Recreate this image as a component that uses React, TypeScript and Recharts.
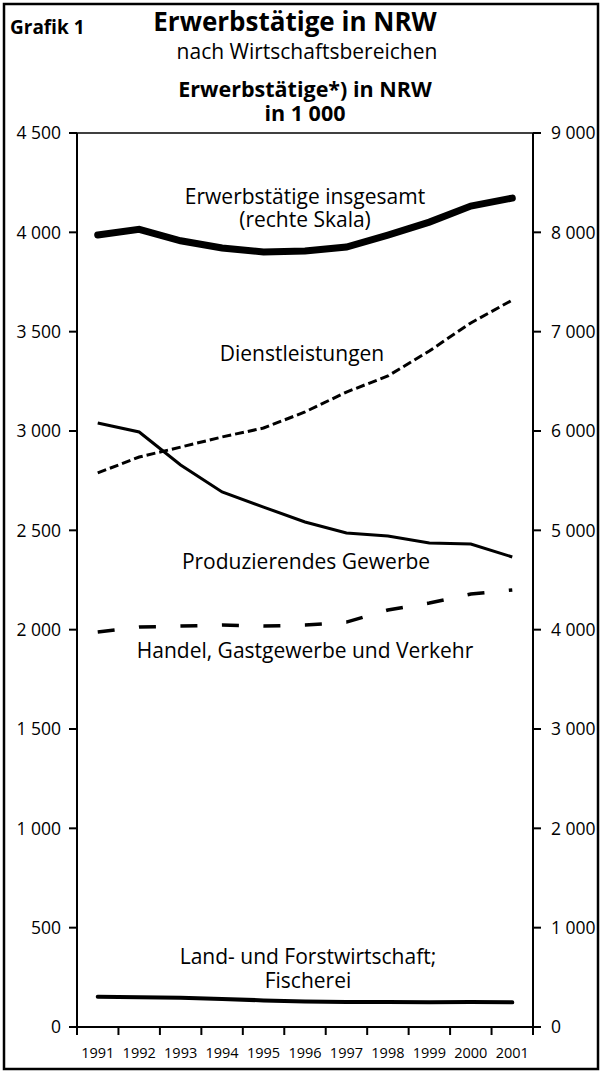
import React from "react";
import {
  ComposedChart,
  Line,
  XAxis,
  YAxis,
  ReferenceLine,
} from "recharts";

// Erwerbstätige in NRW, in 1 000
const YEARS = ["1991", "1992", "1993", "1994", "1995", "1996", "1997", "1998", "1999", "2000", "2001"];
const INSGESAMT = [7973, 8030, 7915, 7842, 7802, 7812, 7852, 7973, 8103, 8265, 8345];
const DIENSTLEISTUNGEN = [2789, 2869, 2919, 2970, 3015, 3096, 3196, 3277, 3403, 3544, 3659];
const PRODUZIEREND = [3040, 2995, 2829, 2693, 2617, 2542, 2487, 2471, 2436, 2431, 2366];
const HANDEL = [1988, 2013, 2018, 2023, 2018, 2023, 2038, 2099, 2134, 2179, 2200];
const LANDWIRTSCHAFT = [152, 150, 147, 141, 134, 128, 126, 126, 125, 126, 124];

const LEFT_TICKS = [0, 500, 1000, 1500, 2000, 2500, 3000, 3500, 4000, 4500];
const RIGHT_TICKS = [0, 1000, 2000, 3000, 4000, 5000, 6000, 7000, 8000, 9000];

const W = 602;
const H = 1073;
const LEFT_W = 77;
const RIGHT_W = 69;
const BAND = (W - LEFT_W - RIGHT_W) / YEARS.length;
const FONT = '"Open Sans", sans-serif';

const data = YEARS.map((year, i) => ({
  year,
  insgesamt: INSGESAMT[i],
  dienst: DIENSTLEISTUNGEN[i],
  prod: PRODUZIEREND[i],
  handel: HANDEL[i],
  land: LANDWIRTSCHAFT[i],
}));

const fmt = (v: number) => String(v).replace(/\B(?=(\d{3})+(?!\d))/g, " ");

const YearTick = (props: any) => {
  const { x, y, payload, index } = props;
  const last = index === YEARS.length - 1;
  return (
    <g>
      <line x1={x - BAND / 2} y1={y} x2={x - BAND / 2} y2={y + 8} stroke="#000" strokeWidth={2} />
      {last && <line x1={x + BAND / 2} y1={y} x2={x + BAND / 2} y2={y + 8} stroke="#000" strokeWidth={2} />}
      <text x={x} y={y + 25} textAnchor="middle" dominantBaseline="central" fontSize={14.5} fontFamily={FONT} fill="#000">
        {payload.value}
      </text>
    </g>
  );
};

const tickStyle = { fontSize: 17.5, fontFamily: FONT, fill: "#000" };

const App = () => {
  return (
    <div style={{ position: "absolute", left: 0, top: 0, width: W, height: H, background: "#fff" }}>
      <ComposedChart width={W} height={H} data={data} margin={{ top: 133, right: 0, bottom: 0, left: 0 }}>
        <XAxis
          dataKey="year"
          height={46}
          padding={{ left: BAND / 2, right: BAND / 2 }}
          axisLine={{ stroke: "#000", strokeWidth: 2 }}
          tickLine={false}
          tickSize={0}
          tickMargin={0}
          interval={0}
          tick={<YearTick />}
        />
        <YAxis
          yAxisId="left"
          width={LEFT_W}
          domain={[0, 4500]}
          ticks={LEFT_TICKS}
          tickFormatter={fmt}
          tickSize={8}
          tickMargin={8}
          axisLine={{ stroke: "#000", strokeWidth: 2 }}
          tickLine={{ stroke: "#000", strokeWidth: 2 }}
          tick={tickStyle}
        />
        <YAxis
          yAxisId="right"
          orientation="right"
          width={RIGHT_W}
          domain={[0, 9000]}
          ticks={RIGHT_TICKS}
          tickFormatter={fmt}
          tickSize={8}
          tickMargin={10}
          axisLine={{ stroke: "#000", strokeWidth: 2 }}
          tickLine={{ stroke: "#000", strokeWidth: 2 }}
          tick={{ ...tickStyle, textAnchor: "start" }}
        />
        <ReferenceLine yAxisId="left" y={4500} stroke="#000" strokeWidth={1.5} />
        <Line yAxisId="right" dataKey="insgesamt" stroke="#000" strokeWidth={7} strokeLinecap="round" dot={false} activeDot={false} isAnimationActive={false} />
        <Line yAxisId="left" dataKey="dienst" stroke="#000" strokeWidth={3} strokeDasharray="9 4" dot={false} activeDot={false} isAnimationActive={false} />
        <Line yAxisId="left" dataKey="prod" stroke="#000" strokeWidth={3} dot={false} activeDot={false} isAnimationActive={false} />
        <Line yAxisId="left" dataKey="handel" stroke="#000" strokeWidth={3.5} strokeDasharray="17 24.5" dot={false} activeDot={false} isAnimationActive={false} />
        <Line yAxisId="left" dataKey="land" stroke="#000" strokeWidth={4} strokeLinecap="round" dot={false} activeDot={false} isAnimationActive={false} />
      </ComposedChart>
      <svg width={W} height={H} style={{ position: "absolute", left: 0, top: 0, pointerEvents: "none" }} fontFamily={FONT}>
        <rect x={4} y={4} width={594} height={1065} fill="none" stroke="#000" strokeWidth={2.5} />
        <g fill="#000" dominantBaseline="central">
          <text x={10} y={27} fontSize={19} fontWeight="bold">Grafik 1</text>
          <text x={295} y={21} fontSize={26} fontWeight="bold" textAnchor="middle">Erwerbstätige in NRW</text>
          <text x={307} y={51} fontSize={21} textAnchor="middle">nach Wirtschaftsbereichen</text>
          <text x={305} y={88} fontSize={21.5} fontWeight="bold" textAnchor="middle">Erwerbstätige*) in NRW</text>
          <text x={305} y={112} fontSize={21.5} fontWeight="bold" textAnchor="middle">in 1 000</text>
          <text x={305} y={196} fontSize={21} textAnchor="middle">Erwerbstätige insgesamt</text>
          <text x={305} y={219} fontSize={21} textAnchor="middle">(rechte Skala)</text>
          <text x={302} y={353} fontSize={21} textAnchor="middle">Dienstleistungen</text>
          <text x={306} y={561} fontSize={21} textAnchor="middle">Produzierendes Gewerbe</text>
          <text x={305} y={650} fontSize={21} textAnchor="middle">Handel, Gastgewerbe und Verkehr</text>
          <text x={308} y={956} fontSize={21} textAnchor="middle">Land- und Forstwirtschaft;</text>
          <text x={308} y={980} fontSize={21} textAnchor="middle">Fischerei</text>
        </g>
      </svg>
    </div>
  );
};

export default App;
